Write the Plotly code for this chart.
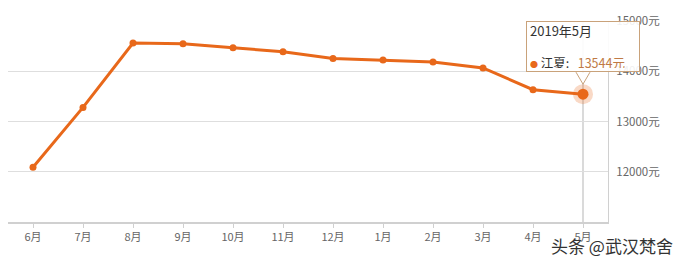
import plotly.graph_objects as go

months = ["6月", "7月", "8月", "9月", "10月", "11月", "12月", "1月", "2月", "3月", "4月", "5月"]
prices = [12090, 13280, 14563, 14549, 14470, 14386, 14255, 14222, 14182, 14065, 13633, 13544]
y_ticks = [12000, 13000, 14000, 15000]
y_tick_text = [f"{v}元" for v in y_ticks]
tooltip_title = "2019年5月"
series_name = "江夏"
watermark = "头条 @武汉梵舍"

LINE = "#e8681a"
FONT = "Noto Sans CJK SC, Noto Sans, sans-serif"

fig = go.Figure()
fig.add_trace(go.Scatter(
    x=months, y=prices, mode="lines+markers",
    line=dict(color=LINE, width=3),
    marker=dict(color=LINE, size=7),
    hoverinfo="skip",
))
# highlighted last point with halo
fig.add_trace(go.Scatter(
    x=[months[-1]], y=[prices[-1]], mode="markers",
    marker=dict(color="rgba(232,104,26,0.25)", size=20),
    hoverinfo="skip",
))
fig.add_trace(go.Scatter(
    x=[months[-1]], y=[prices[-1]], mode="markers",
    marker=dict(color=LINE, size=11),
    hoverinfo="skip",
))

# crosshair
fig.add_shape(type="line", xref="x", yref="paper", x0=len(months) - 1, x1=len(months) - 1,
              y0=0, y1=1, line=dict(color="#b5b5b5", width=1), layer="below")

# tooltip box
fig.add_annotation(
    xref="x", yref="y", x=len(months) - 1, y=prices[-1],
    xanchor="center", yanchor="bottom", yshift=22, showarrow=False,
    text=(f"<span style='color:#333;font-size:13px'>{tooltip_title}</span><br><br>"
          f"<span style='color:{LINE};font-size:8px'>●</span><span style='color:#333'> {series_name}:   </span>"
          f"<span style='color:#c07a45'>{prices[-1]}元</span>"),
    align="left", width=106, height=43,
    bgcolor="rgba(255,255,255,0.9)", bordercolor="#c9a27a", borderwidth=1, borderpad=3,
    font=dict(family=FONT, size=12.5, color="#333"),
)
# tooltip pointer (triangle) in pixels relative to the point
xi = len(months) - 1
px_per_cat = 600 / 12
px_per_unit = 201 / 4000
def dy(px):
    return px / px_per_unit
fig.add_shape(
    type="path", xref="x", yref="y",
    path=(f"M {xi - 7 / px_per_cat} {prices[-1] + dy(22)} "
          f"L {xi} {prices[-1] + dy(10)} "
          f"L {xi + 7 / px_per_cat} {prices[-1] + dy(22)}"),
    line=dict(color="#c9a27a", width=1), fillcolor="white", layer="above",
)

fig.add_annotation(
    xref="paper", yref="paper", x=1.0, y=-0.115, xanchor="right", yanchor="middle",
    xshift=67, showarrow=False, text=watermark,
    font=dict(family=FONT, size=17, color="#333"),
)

fig.update_layout(
    width=678, height=267,
    margin=dict(l=8, r=70, t=21, b=45),
    paper_bgcolor="white", plot_bgcolor="white",
    showlegend=False,
    font=dict(family=FONT, size=11, color="#666"),
)
fig.update_xaxes(
    type="category", range=[-0.5, len(months) - 0.5],
    showgrid=False, showline=True, linecolor="#d0d0d0", linewidth=2,
    ticks="outside", ticklen=4, tickcolor="#d0d0d0",
    tickfont=dict(family=FONT, size=11, color="#666"),
    zeroline=False,
)
fig.update_yaxes(
    side="right", range=[11000, 15000],
    tickvals=y_ticks, ticktext=y_tick_text,
    showgrid=True, gridcolor="#dedede", gridwidth=1,
    showline=True, linecolor="#d0d0d0", linewidth=1,
    ticks="", zeroline=False, ticklabelstandoff=5,
    tickfont=dict(family=FONT, size=11.5, color="#666"),
)

fig.write_html("out.html")
